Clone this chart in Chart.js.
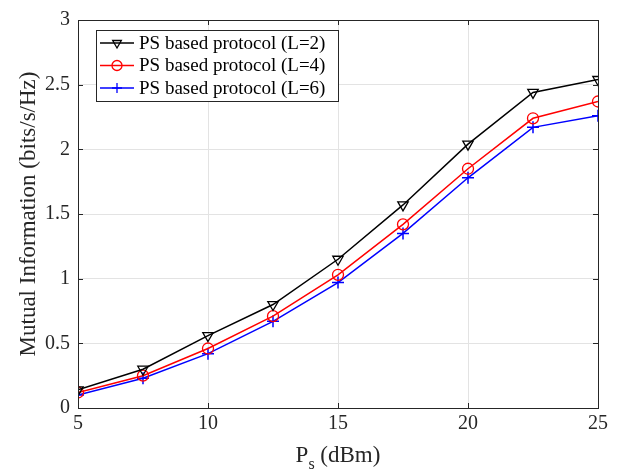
<!DOCTYPE html>
<html>
<head>
<meta charset="utf-8">
<script src="https://cdn.jsdelivr.net/npm/chart.js@4.4.1/dist/chart.umd.min.js"></script>
<style>
  html, body { margin: 0; padding: 0; background: #fff; }
  #wrap { width: 625px; height: 474px; }
</style>
</head>
<body>
<div id="wrap"><canvas id="myChart" width="625" height="474"></canvas></div>
<script>
// transmit power (dBm) and mutual information for each L
const powerDbm = [5, 7.5, 10, 12.5, 15, 17.5, 20, 22.5, 25];
const miL2 = [0.14, 0.30, 0.56, 0.80, 1.15, 1.57, 2.04, 2.44, 2.54];
const miL4 = [0.12, 0.25, 0.46, 0.71, 1.03, 1.42, 1.85, 2.24, 2.37];
const miL6 = [0.10, 0.23, 0.42, 0.67, 0.97, 1.35, 1.78, 2.17, 2.26];
const xTicks = [5, 10, 15, 20, 25];
const yTicks = [0, 0.5, 1, 1.5, 2, 2.5, 3];
const seriesNames = ['PS based protocol (L=2)', 'PS based protocol (L=4)', 'PS based protocol (L=6)'];

const serif = '"Liberation Serif", "DejaVu Serif", serif';

function pts(ys) {
    return powerDbm.map((x, i) => ({ x: x, y: ys[i] }));
}

// box, inward ticks, axis titles and legend drawn like a matlab figure
const matlabLook = {
    id: 'matlabLook',
    afterDraw(chart) {
        const ctx = chart.ctx;
        const a = chart.chartArea;
        const xs = chart.scales.x, ys = chart.scales.y;
        ctx.save();
        ctx.strokeStyle = '#262626';
        ctx.lineWidth = 1;
        ctx.strokeRect(a.left + 0.5, a.top + 0.5, a.right - a.left, a.bottom - a.top);
        const t = 5;
        ctx.beginPath();
        xTicks.forEach(v => {
            const px = Math.round(xs.getPixelForValue(v)) + 0.5;
            ctx.moveTo(px, a.bottom); ctx.lineTo(px, a.bottom - t);
            ctx.moveTo(px, a.top); ctx.lineTo(px, a.top + t);
        });
        yTicks.forEach(v => {
            const py = Math.round(ys.getPixelForValue(v)) + 0.5;
            ctx.moveTo(a.left, py); ctx.lineTo(a.left + t, py);
            ctx.moveTo(a.right, py); ctx.lineTo(a.right - t, py);
        });
        ctx.stroke();

        // x title with subscript
        ctx.fillStyle = '#262626';
        ctx.textBaseline = 'alphabetic';
        ctx.font = '23px ' + serif;
        const cx = (a.left + a.right) / 2;
        const w1 = ctx.measureText('P').width;
        ctx.font = '16px ' + serif;
        const ws = ctx.measureText('s').width;
        ctx.font = '23px ' + serif;
        const w2 = ctx.measureText(' (dBm)').width;
        let x0 = cx - (w1 + ws + w2) / 2;
        ctx.textAlign = 'left';
        ctx.fillText('P', x0, 462);
        ctx.font = '16px ' + serif;
        ctx.fillText('s', x0 + w1, 469);
        ctx.font = '23px ' + serif;
        ctx.fillText(' (dBm)', x0 + w1 + ws, 462);

        // y title
        ctx.save();
        ctx.translate(35, (a.top + a.bottom) / 2);
        ctx.rotate(-Math.PI / 2);
        ctx.textAlign = 'center';
        ctx.font = '23px ' + serif;
        ctx.fillText('Mutual Information (bits/s/Hz)', 0, 0);
        ctx.restore();

        // legend box
        const lx = 96, ly = 30, lw = 242, lh = 71;
        ctx.fillStyle = '#fff';
        ctx.fillRect(lx, ly, lw, lh);
        ctx.strokeStyle = '#262626';
        ctx.lineWidth = 1;
        ctx.strokeRect(lx + 0.5, ly + 0.5, lw, lh);
        ctx.font = '19px ' + serif;
        ctx.textAlign = 'left';
        ctx.textBaseline = 'middle';
        chart.data.datasets.forEach((ds, i) => {
            const yy = ly + 13 + i * 22.5;
            ctx.strokeStyle = ds.borderColor;
            ctx.fillStyle = 'rgba(0,0,0,0)';
            ctx.lineWidth = 1.3;
            ctx.beginPath();
            ctx.moveTo(lx + 4, yy); ctx.lineTo(lx + 38, yy);
            ctx.stroke();
            Chart.helpers.drawPoint(ctx, {
                pointStyle: ds.pointStyle, radius: 5, rotation: ds.pointRotation || 0,
                borderWidth: 1.3
            }, lx + 21, yy);
            ctx.fillStyle = '#000';
            ctx.fillText(seriesNames[i], lx + 43, yy + 1);
        });
        ctx.restore();
    }
};

const chart = new Chart(document.getElementById('myChart'), {
    type: 'line',
    data: {
        datasets: [{
            label: seriesNames[0],
            data: pts(miL2),
            borderColor: '#000000',
            backgroundColor: 'transparent',
            pointStyle: 'triangle',
            pointRotation: 180,
            pointRadius: 6,
            pointBorderWidth: 1.3,
            borderWidth: 1.5
        }, {
            label: seriesNames[1],
            data: pts(miL4),
            borderColor: '#ff0000',
            backgroundColor: 'transparent',
            pointStyle: 'circle',
            pointRadius: 5.5,
            pointBorderWidth: 1.3,
            borderWidth: 1.5
        }, {
            label: seriesNames[2],
            data: pts(miL6),
            borderColor: '#0000ff',
            backgroundColor: 'transparent',
            pointStyle: 'cross',
            pointRadius: 6,
            pointBorderWidth: 1.5,
            borderWidth: 1.5
        }]
    },
    options: {
        responsive: false,
        animation: false,
        events: [],
        layout: { padding: { left: 0, right: 27, top: 14, bottom: 0 } },
        plugins: { legend: { display: false }, tooltip: { enabled: false } },
        scales: {
            x: {
                type: 'linear',
                min: 5, max: 25,
                afterBuildTicks: s => { s.ticks = xTicks.map(v => ({ value: v })); },
                afterFit: s => { s.height = 66; },
                grid: { color: '#e3e3e3', drawTicks: false },
                border: { display: false },
                ticks: { color: '#262626', font: { family: serif, size: 20 }, padding: 4,
                         callback: v => String(v) }
            },
            y: {
                min: 0, max: 3,
                afterBuildTicks: s => { s.ticks = yTicks.map(v => ({ value: v })); },
                afterFit: s => { s.width = 78; },
                grid: { color: '#e3e3e3', drawTicks: false },
                border: { display: false },
                ticks: { color: '#262626', font: { family: serif, size: 20 }, padding: 8,
                         callback: v => String(v) }
            }
        }
    },
    plugins: [matlabLook]
});
</script>
</body>
</html>
